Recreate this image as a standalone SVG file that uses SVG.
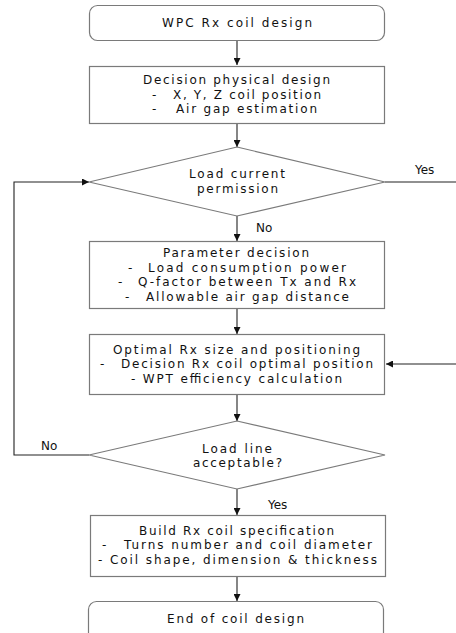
<svg xmlns="http://www.w3.org/2000/svg" width="456" height="633" viewBox="0 0 456 633">
<defs>
<marker id="ah" viewBox="0 0 10 10" refX="10" refY="5" markerWidth="7" markerHeight="7" markerUnits="userSpaceOnUse" orient="auto">
<path d="M0,0 L10,5 L0,10 Z" fill="#111"/>
</marker>
</defs>
<style>
.box{fill:#fff;stroke:#7a7a7a;stroke-width:1.2}
.t{font-family:"DejaVu Sans","Noto Sans",sans-serif;font-size:12px;fill:#111}
.c{fill:none;stroke:#222;stroke-width:1.1}
</style>
<rect width="456" height="633" fill="#fff"/>
<g id="connectors">
<line class="c" x1="237" y1="40" x2="237" y2="65" marker-end="url(#ah)"/>
<line class="c" x1="237" y1="123" x2="237" y2="147" marker-end="url(#ah)"/>
<line class="c" x1="237" y1="216" x2="237" y2="241" marker-end="url(#ah)"/>
<line class="c" x1="237" y1="308" x2="237" y2="334" marker-end="url(#ah)"/>
<line class="c" x1="237" y1="394" x2="237" y2="421" marker-end="url(#ah)"/>
<line class="c" x1="237" y1="489" x2="237" y2="515" marker-end="url(#ah)"/>
<line class="c" x1="237" y1="576" x2="237" y2="601" marker-end="url(#ah)"/>
<line class="c" x1="385" y1="182" x2="456" y2="182"/>
<line class="c" x1="456" y1="364" x2="386" y2="364" marker-end="url(#ah)"/>
<polyline class="c" points="89,455 14,455 14,182 89,182" marker-end="url(#ah)"/>
<text class="t" x="415" y="174">Yes</text>
<text class="t" x="256" y="232">No</text>
<text class="t" x="41" y="450">No</text>
<text class="t" x="268" y="509">Yes</text>
</g>
<g id="n1">
<rect class="box" x="89.5" y="5.5" width="295" height="35" rx="8"/>
<text class="t" x="162" y="27" textLength="150" lengthAdjust="spacing">WPC Rx coil design</text>
</g>
<g id="n2">
<rect class="box" x="89.5" y="66.5" width="295" height="57"/>
<text class="t" x="143" y="84" textLength="187" lengthAdjust="spacing">Decision physical design</text>
<text class="t" x="152" y="99">-</text>
<text class="t" x="173" y="99" textLength="148" lengthAdjust="spacing">X, Y, Z coil position</text>
<text class="t" x="152" y="113">-</text>
<text class="t" x="176" y="113" textLength="141" lengthAdjust="spacing">Air gap estimation</text>
</g>
<g id="n3">
<polygon class="box" points="237,147 385,182 237,216 89,182"/>
<text class="t" x="189" y="178" textLength="96" lengthAdjust="spacing">Load current</text>
<text class="t" x="197" y="193" textLength="81" lengthAdjust="spacing">permission</text>
</g>
<g id="n4">
<rect class="box" x="89.5" y="241.5" width="295" height="67"/>
<text class="t" x="163" y="257" textLength="146" lengthAdjust="spacing">Parameter decision</text>
<text class="t" x="128" y="272">-</text>
<text class="t" x="148" y="272" textLength="198" lengthAdjust="spacing">Load consumption power</text>
<text class="t" x="118" y="286">-</text>
<text class="t" x="138" y="286" textLength="218" lengthAdjust="spacing">Q-factor between Tx and Rx</text>
<text class="t" x="125" y="301">-</text>
<text class="t" x="146" y="301" textLength="203" lengthAdjust="spacing">Allowable air gap distance</text>
</g>
<g id="n5">
<rect class="box" x="89.5" y="334.5" width="295" height="60"/>
<text class="t" x="113" y="354" textLength="247" lengthAdjust="spacing">Optimal Rx size and positioning</text>
<text class="t" x="100" y="368">-</text>
<text class="t" x="121" y="368" textLength="252" lengthAdjust="spacing">Decision Rx coil optimal position</text>
<text class="t" x="131" y="383" textLength="211" lengthAdjust="spacing">- WPT efficiency calculation</text>
</g>
<g id="n6">
<polygon class="box" points="237,421 385,455 237,489 89,455"/>
<text class="t" x="202" y="453" textLength="70" lengthAdjust="spacing">Load line</text>
<text class="t" x="193" y="467" textLength="89" lengthAdjust="spacing">acceptable?</text>
</g>
<g id="n7">
<rect class="box" x="90.5" y="515.5" width="295" height="61"/>
<text class="t" x="139" y="535" textLength="195" lengthAdjust="spacing">Build Rx coil specification</text>
<text class="t" x="102" y="549">-</text>
<text class="t" x="124" y="549" textLength="248" lengthAdjust="spacing">Turns number and coil diameter</text>
<text class="t" x="98" y="564" textLength="279" lengthAdjust="spacing">- Coil shape, dimension &amp; thickness</text>
</g>
<g id="n8">
<rect class="box" x="88.5" y="601.5" width="295" height="45" rx="8"/>
<text class="t" x="167" y="623" textLength="137" lengthAdjust="spacing">End of coil design</text>
</g>
</svg>
